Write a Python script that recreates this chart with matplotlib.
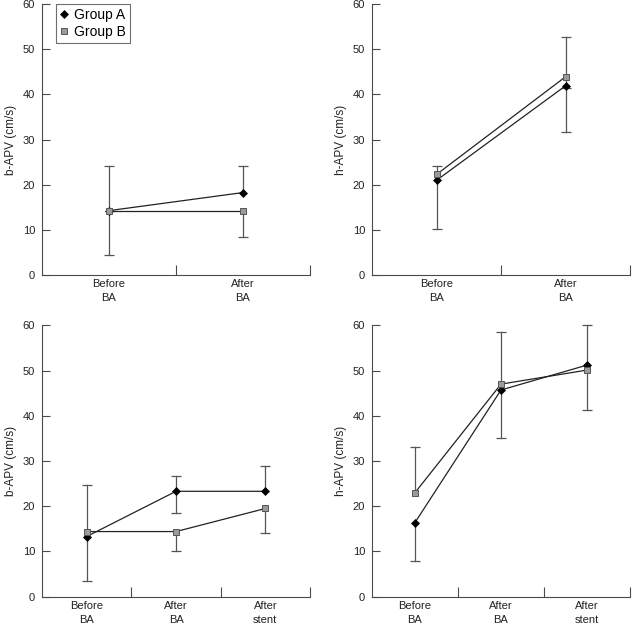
import numpy as np
import matplotlib
matplotlib.use("Agg")
import matplotlib.pyplot as plt

plt.rcParams['font.family'] = ['Liberation Sans', 'DejaVu Sans']

nan = np.nan
cats_2 = ["Before\nBA", "After\nBA"]
cats_3 = ["Before\nBA", "After\nBA", "After\nstent"]

# Panel 1: b-APV, two time points
p1_a = [14.3, 18.3]
p1_a_lo = [nan, nan]
p1_a_hi = [24.2, 24.2]
p1_b = [14.3, 14.3]
p1_b_lo = [4.4, 8.4]
p1_b_hi = [nan, nan]

# Panel 2: h-APV, two time points
p2_a = [21.0, 41.9]
p2_a_lo = [10.2, 31.6]
p2_a_hi = [nan, nan]
p2_b = [22.3, 43.9]
p2_b_lo = [nan, 41.4]
p2_b_hi = [24.2, 52.6]

# Panel 3: b-APV, three time points
p3_a = [13.3, 23.3, 23.3]
p3_a_lo = [3.5, 18.6, nan]
p3_a_hi = [nan, 26.7, 28.8]
p3_b = [14.4, 14.4, 19.5]
p3_b_lo = [nan, 10.0, 14.1]
p3_b_hi = [24.7, nan, nan]

# Panel 4: h-APV, three time points
p4_a = [16.4, 45.7, 51.2]
p4_a_lo = [7.9, 35.1, nan]
p4_a_hi = [nan, nan, 60.1]
p4_b = [23.0, 47.0, 50.1]
p4_b_lo = [nan, nan, 41.3]
p4_b_hi = [33.0, 58.6, nan]

W, H = 640, 624
fig = plt.figure(figsize=(W / 100, H / 100), dpi=100)

def frac(l, r, t, b):
    return [l / W, 1 - b / H, (r - l) / W, (b - t) / H]

axes_rects = [
    frac(42, 310, 4, 275.3),
    frac(372, 630, 4, 275.3),
    frac(42, 310, 325.3, 596.7),
    frac(372, 630, 325.3, 596.7),
]

panels = [
    (cats_2, "b-APV (cm/s)", p1_a, p1_a_lo, p1_a_hi, p1_b, p1_b_lo, p1_b_hi),
    (cats_2, "h-APV (cm/s)", p2_a, p2_a_lo, p2_a_hi, p2_b, p2_b_lo, p2_b_hi),
    (cats_3, "b-APV (cm/s)", p3_a, p3_a_lo, p3_a_hi, p3_b, p3_b_lo, p3_b_hi),
    (cats_3, "h-APV (cm/s)", p4_a, p4_a_lo, p4_a_hi, p4_b, p4_b_lo, p4_b_hi),
]

spine_col = "#4a4a4a"
err_col = "#555555"
line_col = "#222222"

def draw_err(ax, x, y, ends):
    for xi, yi, ei in zip(x, y, ends):
        if np.isnan(ei):
            continue
        ax.plot([xi, xi], [yi, ei], color=err_col, lw=0.9, zorder=2, clip_on=False)
        ax.plot([xi], [ei], marker='_', ms=7, mew=0.9, color=err_col, zorder=2, clip_on=False)

for i, (rect, (cats, ylabel, a, alo, ahi, b, blo, bhi)) in enumerate(zip(axes_rects, panels)):
    ax = fig.add_axes(rect)
    n = len(cats)
    x = np.arange(n) + 0.5
    for ends in (alo, ahi):
        draw_err(ax, x, a, ends)
    for ends in (blo, bhi):
        draw_err(ax, x, b, ends)
    ax.plot(x, b, color=line_col, lw=0.9, zorder=3)
    ax.plot(x, a, color=line_col, lw=0.9, zorder=3)
    ha, = ax.plot(x, a, ls='none', marker='D', ms=3.7, mfc='black', mec='black',
                  mew=0.5, zorder=4, clip_on=False, label='Group A')
    hb, = ax.plot(x, b, ls='none', marker='s', ms=4.2, mfc='#9a9a9a', mec='#555555',
                  mew=0.7, zorder=5, clip_on=False, label='Group B')
    ax.set_xlim(0, n)
    ax.set_ylim(0, 60)
    ax.set_yticks(np.arange(0, 61, 10))
    ax.set_xticks(np.arange(1, n + 1))
    ax.set_xticklabels([])
    ax.set_xticks(x, minor=True)
    ax.set_xticklabels(cats, minor=True, fontsize=8, color='#222222', linespacing=1.5)
    ax.tick_params(axis='x', which='minor', length=0, pad=3)
    ax.tick_params(axis='x', which='major', direction='in', length=7, width=0.8, color=spine_col)
    ax.tick_params(axis='y', direction='in', length=6, width=0.8, color=spine_col,
                   labelsize=8, labelcolor='#222222', pad=5)
    for s in ('top', 'right'):
        ax.spines[s].set_visible(False)
    for s in ('left', 'bottom'):
        ax.spines[s].set_color(spine_col)
        ax.spines[s].set_linewidth(0.8)
    ax.set_ylabel(ylabel, fontsize=8.5, color='#222222', labelpad=4)
    if i == 0:
        leg = ax.legend(handles=[ha, hb], loc='upper left', bbox_to_anchor=(14 / 268, 1.0),
                        borderaxespad=0, fontsize=10, frameon=True, fancybox=False,
                        handlelength=0.6, handletextpad=0.4, borderpad=0.3,
                        labelspacing=0.2, edgecolor=spine_col)
        leg.get_frame().set_linewidth(0.8)

fig.savefig("out.png", dpi=100)
